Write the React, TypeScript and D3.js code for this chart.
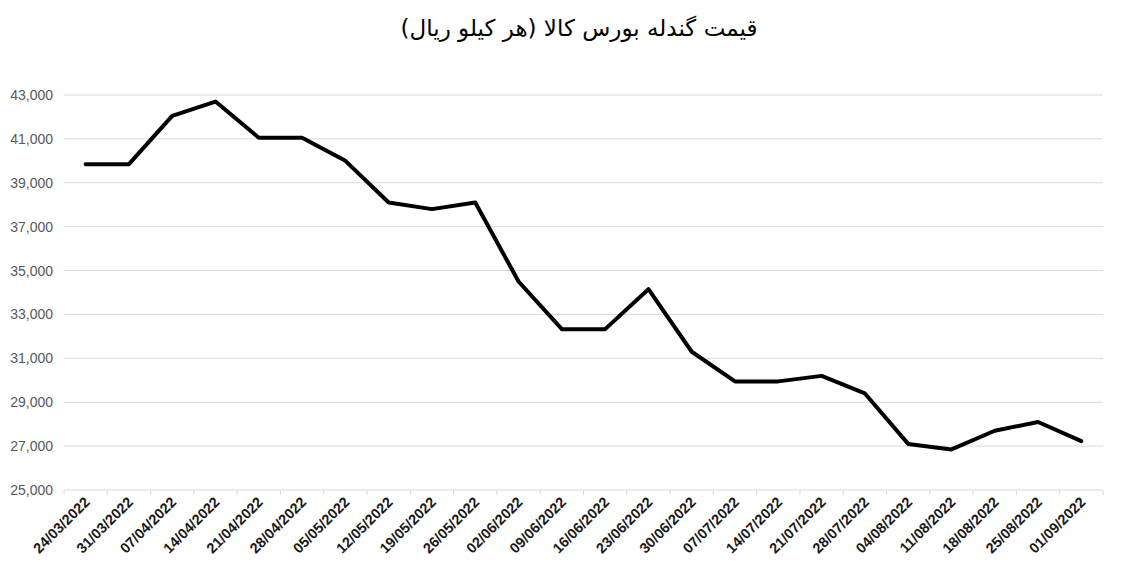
import React from "react";
import * as d3 from "d3";

const dates = ["24/03/2022","31/03/2022","07/04/2022","14/04/2022","21/04/2022","28/04/2022","05/05/2022","12/05/2022","19/05/2022","26/05/2022","02/06/2022","09/06/2022","16/06/2022","23/06/2022","30/06/2022","07/07/2022","14/07/2022","21/07/2022","28/07/2022","04/08/2022","11/08/2022","18/08/2022","25/08/2022","01/09/2022"];
const prices = [39850,39850,42050,42700,41050,41050,40000,38100,37800,38100,34500,32330,32330,34150,31300,29950,29950,30200,29400,27100,26850,27700,28100,27230];
const yTicks = [25000,27000,29000,31000,33000,35000,37000,39000,41000,43000];
const title = "قیمت گندله بورس کالا (هر کیلو ریال)";

export default function App() {
  const W = 1134, H = 588;
  const left = 64, right = 1103, top = 95, bottom = 490;
  const x = d3.scaleBand<string>().domain(dates).range([left, right]);
  const y = d3.scaleLinear().domain([25000, 43000]).range([bottom, top]);
  const line = d3.line<number>().x((_, i) => (x(dates[i]) as number) + x.bandwidth() / 2).y(d => y(d));
  const fmt = d3.format(",");
  const bounds = dates.map(d => x(d) as number).concat([right]);
  return (
    <svg width={W} height={H} style={{ position: "absolute", left: 0, top: 0, background: "#fff" }}>
      <text x={579} y={36} textAnchor="middle" fontFamily="DejaVu Sans, Arial" fontSize={23} fill="#000" direction="rtl">{title}</text>
      {yTicks.map(t => (
        <g key={t}>
          {t !== 25000 && <line x1={left} x2={right} y1={y(t)} y2={y(t)} stroke="#d9d9d9" strokeWidth={1} />}
          <text x={53} y={y(t) + 5} textAnchor="end" fontFamily="Liberation Sans, Arial" fontSize={14} fill="#595959">{fmt(t)}</text>
        </g>
      ))}
      <line x1={left} x2={right} y1={bottom} y2={bottom} stroke="#d9d9d9" strokeWidth={1} />
      {bounds.map((b, i) => (
        <line key={i} x1={b} x2={b} y1={bottom} y2={bottom + 5} stroke="#d9d9d9" strokeWidth={1} />
      ))}
      {dates.map(d => {
        const cx = (x(d) as number) + x.bandwidth() / 2 + 5;
        const cy = bottom + 13;
        return (
          <text key={d} x={cx} y={cy} transform={`rotate(-45 ${cx} ${cy})`} textAnchor="end" fontFamily="Liberation Sans, Arial" fontWeight="bold" fontSize={14.5} fill="#1a1a1a">{d}</text>
        );
      })}
      <path d={line(prices) as string} fill="none" stroke="#000" strokeWidth={4} strokeLinejoin="round" strokeLinecap="round" />
    </svg>
  );
}
